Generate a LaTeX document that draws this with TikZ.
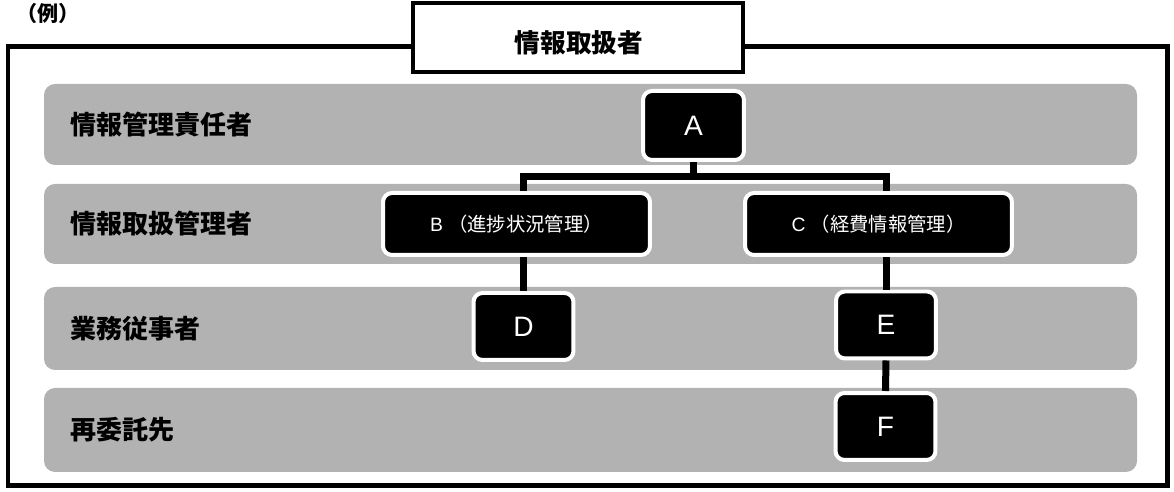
\documentclass[tikz,border=0pt]{standalone}
\usepackage{fontspec}
\setmainfont{Liberation Sans}
\newfontfamily\cjk{Noto Sans CJK JP}
\begin{document}
\begin{tikzpicture}[x=0.02cm,y=-0.02cm,
  band/.style={fill=black!30, rounded corners=0.22cm},
  role/.style={font=\cjk\bfseries\fontsize{14.8}{16}\selectfont, anchor=west, inner sep=0},
  unit/.style={fill=black, draw=white, line width=0.08cm, rounded corners=0.18cm, text=white, inner sep=0, font=\fontsize{16}{18}\selectfont},
  wideunit/.style={unit, font=\fontsize{11}{13}\selectfont, minimum width=5.34cm, minimum height=1.24cm},
  smallunit/.style={unit, minimum width=2.0cm, minimum height=1.34cm},
  link/.style={draw=black, line width=0.14cm},
  frame/.style={draw=black, line width=0.1cm},
  titlebox/.style={draw=black, fill=white, line width=0.08cm, inner sep=0, minimum width=6.6cm, minimum height=1.38cm},
  titletext/.style={font=\cjk\bfseries\fontsize{14.6}{16}\selectfont, inner sep=0}
]
\useasboundingbox (0,0) rectangle (1174,492);
% caption at the top
\node[font=\cjk\bfseries\fontsize{12}{14}\selectfont, anchor=north west, inner sep=0] (rei) at (16,3) {（例）};
% outer frame
\draw[frame] (8,47) rectangle (1167,486);
% title
\node[titlebox] (tb) at (578,37.5) {};
\node[titletext] (tt) at (579,43) {情報取扱者};
% bands
\path[band] (44,84) rectangle (1137,165);
\path[band] (44,184) rectangle (1137,264);
\path[band] (44,287) rectangle (1137,370);
\path[band] (44,388) rectangle (1137,472);
% row labels
\node[role] (r1) at (70,125) {情報管理責任者};
\node[role] (r2) at (70,224) {情報取扱管理者};
\node[role] (r3) at (70,329) {業務従事者};
\node[role] (r4) at (70,430) {再委託先};
% units
\node[unit, minimum width=2.02cm, minimum height=1.38cm] (A) at (693.5,125.5) {A};
\node[wideunit] (B) at (516.5,224) {B\ {\cjk （進捗状況管理）}};
\node[wideunit] (C) at (878.5,224) {C\ {\cjk （経費情報管理）}};
\node[smallunit] (D) at (523.5,326.5) {D};
\node[smallunit] (E) at (886,325) {E};
\node[smallunit] (F) at (885.5,426.5) {F};
% connectors
\coordinate (bar) at (0,176.5);
\draw[link] (A.south) -- (A.south |- bar);
\draw[link] (D.north |- B.north) -- (D.north |- bar) -- (E.north |- bar) -- (E.north |- C.north);
\draw[link] (D.north) -- (D.north |- B.south);
\draw[link] (E.north) -- (E.north |- C.south);
\draw[link] (E.south) -- (F.north);
\end{tikzpicture}
\end{document}
